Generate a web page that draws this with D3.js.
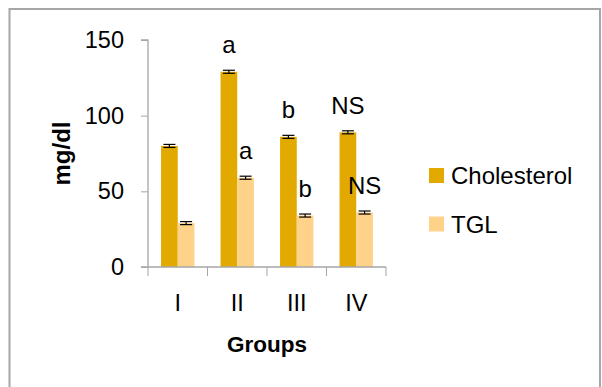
<!DOCTYPE html>
<html>
<head>
<meta charset="utf-8">
<script src="https://cdn.jsdelivr.net/npm/d3@7"></script>
<style>
  body { margin: 0; background: #fff; }
  text { font-family: "Liberation Sans", Arial, sans-serif; fill: #000; }
</style>
</head>
<body>
<script>
// data
var groups = ["I", "II", "III", "IV"];
var seriesNames = ["Cholesterol", "TGL"];
var cholesterol = [80, 129, 86, 89];
var tgl = [29, 59, 34, 36];
var cholErr = [1, 1, 1, 1];
var tglErr = [1, 1, 1, 1];
var cholLabels = ["", "a", "b", "NS"];
var tglLabels = ["", "a", "b", "NS"];
var yTicks = [0, 50, 100, 150];
var colors = ["#E2A900", "#FFD28A"];

var W = 602, H = 387;
var margin = {top: 40, left: 148};
var plotW = 238, plotH = 227;

var svg = d3.select("body").append("svg")
    .attr("width", W)
    .attr("height", H);

// outer frame
svg.append("rect")
    .attr("x", 9.5).attr("y", 9)
    .attr("width", 590.5).attr("height", 400)
    .attr("fill", "none")
    .attr("stroke", "#a6a6a6")
    .attr("stroke-width", 2);

var g = svg.append("g")
    .attr("transform", "translate(" + margin.left + "," + margin.top + ")");

var x0 = d3.scaleBand().domain(groups).range([0, plotW]).paddingInner(0).paddingOuter(0);
var x1 = d3.scaleBand().domain(seriesNames).range([0, 33.4]);
var y = d3.scaleLinear().domain([0, 150]).range([plotH, 0]);

var table = groups.map(function (grp, i) {
  return {
    group: grp,
    values: [
      {name: "Cholesterol", v: cholesterol[i], e: cholErr[i], lab: cholLabels[i]},
      {name: "TGL", v: tgl[i], e: tglErr[i], lab: tglLabels[i]}
    ]
  };
});

var grp = g.selectAll(".grp")
  .data(table)
  .enter().append("g")
    .attr("transform", function (d) {
      return "translate(" + (x0(d.group) + x0.bandwidth() / 2 - 16.7) + ",0)";
    });

var bar = grp.selectAll(".bar")
  .data(function (d) { return d.values; })
  .enter().append("g");

bar.append("rect")
    .attr("x", function (d) { return x1(d.name); })
    .attr("y", function (d) { return y(d.v); })
    .attr("width", x1.bandwidth())
    .attr("height", function (d) { return plotH - y(d.v); })
    .attr("fill", function (d, i) { return colors[i]; });

// error bars
var cx = function (d) { return x1(d.name) + x1.bandwidth() / 2; };
bar.append("line")
    .attr("x1", cx).attr("x2", cx)
    .attr("y1", function (d) { return y(d.v + d.e); })
    .attr("y2", function (d) { return y(d.v - d.e); })
    .attr("stroke", "#000").attr("stroke-width", 1.2);
[1, -1].forEach(function (s) {
  bar.append("line")
      .attr("x1", function (d) { return cx(d) - 6; })
      .attr("x2", function (d) { return cx(d) + 6; })
      .attr("y1", function (d) { return y(d.v + s * d.e); })
      .attr("y2", function (d) { return y(d.v + s * d.e); })
      .attr("stroke", "#000").attr("stroke-width", 1.2);
});

// significance letters
bar.append("text")
    .attr("x", cx)
    .attr("y", function (d) { return y(d.v + d.e) - 17; })
    .attr("text-anchor", "middle")
    .style("font-size", "24px")
    .text(function (d) { return d.lab; });

// y axis
var yAxis = g.append("g")
    .call(d3.axisLeft(y).tickValues(yTicks).tickSize(7).tickPadding(17));
// x axis
var xAxis = g.append("g")
    .attr("transform", "translate(0," + plotH + ")")
    .call(d3.axisBottom(x0).tickSize(0).tickPadding(27));
xAxis.selectAll(".tick text").attr("dy", "0.71em");
// x ticks at band boundaries
xAxis.selectAll(".sep")
  .data(groups.concat(["end"]))
  .enter().append("line")
    .attr("x1", function (d, i) { return i * x0.bandwidth(); })
    .attr("x2", function (d, i) { return i * x0.bandwidth(); })
    .attr("y1", 0).attr("y2", 9)
    .attr("stroke", "#a6a6a6");

[yAxis, xAxis].forEach(function (ax) {
  ax.select(".domain").attr("stroke", "#a6a6a6").attr("stroke-width", 1.3);
  ax.selectAll(".tick line").attr("stroke", "#a6a6a6");
  ax.selectAll(".tick text")
      .style("font-family", "Liberation Sans, Arial, sans-serif")
      .style("font-size", "23.5px")
      .attr("fill", "#000");
});
yAxis.select(".domain").attr("d", "M0," + plotH + "V0H-7");
xAxis.select(".domain").attr("d", "M-7,0H" + plotW);

// axis titles
svg.append("text")
    .attr("transform", "translate(70," + (margin.top + plotH / 2) + ") rotate(-90)")
    .attr("text-anchor", "middle")
    .style("font-size", "24px")
    .style("font-weight", "bold")
    .text("mg/dl");

svg.append("text")
    .attr("x", margin.left + plotW / 2)
    .attr("y", 352)
    .attr("text-anchor", "middle")
    .style("font-size", "22.5px")
    .style("font-weight", "bold")
    .text("Groups");

// legend
var legend = svg.selectAll(".legend")
  .data(seriesNames)
  .enter().append("g")
    .attr("transform", function (d, i) { return "translate(429," + (168 + i * 48.5) + ")"; });
legend.append("rect")
    .attr("width", 15).attr("height", 15)
    .attr("fill", function (d, i) { return colors[i]; });
legend.append("text")
    .attr("x", 22).attr("y", 16)
    .style("font-size", "24px")
    .text(function (d) { return d; });
</script>
</body>
</html>
